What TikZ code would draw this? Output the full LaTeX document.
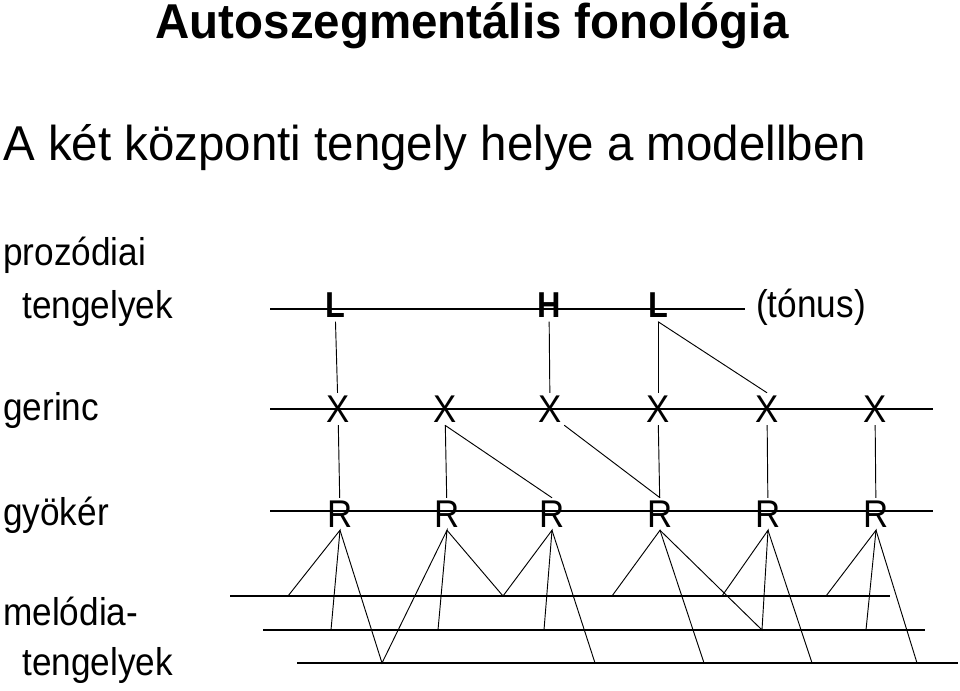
\documentclass[tikz,border=0pt]{standalone}
\usepackage{fontspec}
\setmainfont{Liberation Sans}
\usetikzlibrary{positioning}
\tikzset{
  seg/.style={inner sep=2pt, xscale=0.9, font=\fontsize{29}{29}\selectfont},
  tone/.style={inner sep=3pt, xscale=0.9, font=\bfseries\fontsize{27}{27}\selectfont},
  lbl/.style={anchor=base west, inner sep=0pt, xscale=0.91, font=\fontsize{29}{29}\selectfont},
  tier/.style={line width=1.6pt},
  assoc/.style={line width=0.7pt},
}
\begin{document}
\begin{tikzpicture}[x=0.75pt, y=-0.75pt]
            \useasboundingbox (0,0) rectangle (960,690);
            \node [anchor=base, inner sep=0pt, xscale=0.97, font=\bfseries\fontsize{36.7}{36.7}\selectfont] (title) at (472,38) {Autoszegmentális fonológia};
            \node [anchor=base west, inner sep=0pt, xscale=0.97, font=\fontsize{36.7}{36.7}\selectfont] (sub) at (3,160) {A két központi tengely helye a modellben};
            \node [lbl] (prozod) at (3,265) {prozódiai};
            \node [lbl] (tengA) at (22,318) {tengelyek};
            \node [lbl] (gerinc) at (3,420) {gerinc};
            \node [lbl] (gyoker) at (3,525) {gyökér};
            \node [lbl] (melod) at (3,625) {melódia-};
            \node [lbl] (tengB) at (22,675) {tengelyek};
            \coordinate (toneA) at (270,309);
            \coordinate (toneB) at (745,309);
            \coordinate (gerA) at (270,409);
            \coordinate (gerB) at (933,409);
            \coordinate (gyA) at (270,511);
            \coordinate (gyB) at (933,511);
            \coordinate (mA1) at (230,596);
            \coordinate (mB1) at (890,596);
            \coordinate (mA2) at (263,630);
            \coordinate (mB2) at (925,630);
            \coordinate (mA3) at (297,663);
            \coordinate (mB3) at (958,663);
            \draw[tier] (toneA) -- (toneB);
            \draw[tier] (gerA) -- (gerB);
            \draw[tier] (gyA) -- (gyB);
            \draw[tier] (mA1) -- (mB1);
            \draw[tier] (mA2) -- (mB2);
            \draw[tier] (mA3) -- (mB3);
            \node [tone] (L1) at (335,305) {L};
            \node [tone] (H1) at (549,305) {H};
            \node [tone] (L2) at (658,305) {L};
            \node [lbl] (tonus) at (756,317) {(tónus)};
            \foreach \x [count=\i] in {338,445,550,658,767,875}
                \node [seg] (X\i) at (\x,409) {X};
            \foreach \x [count=\i] in {340,447,552,660,768,876}
                \node [seg] (R\i) at (\x,514) {R};
            \draw[assoc] (L1) -- (X1);
            \draw[assoc] (H1) -- (X3);
            \draw[assoc] (L2) -- (X4);
            \draw[assoc] (L2.south) -- (X5.north);
            \draw[assoc] (X1) -- (R1);
            \draw[assoc] (X2) -- (R2);
            \draw[assoc] (X2.south) -- (R3.north);
            \draw[assoc] (X3.south east) -- (R4.north);
            \draw[assoc] (X4) -- (R4);
            \draw[assoc] (X5) -- (R5);
            \draw[assoc] (X6) -- (R6);
            \coordinate (a1) at (288,596);
            \coordinate (b1) at (331,630);
            \coordinate (c1) at (382,663);
            \coordinate (b2) at (438,630);
            \coordinate (a2) at (503,596);
            \coordinate (b3) at (544,630);
            \coordinate (c3) at (595,663);
            \coordinate (a4) at (612,596);
            \coordinate (c4) at (704,663);
            \coordinate (b4) at (762,630);
            \coordinate (a5) at (722,596);
            \coordinate (c5) at (812,663);
            \coordinate (a6) at (826,596);
            \coordinate (b6) at (866,630);
            \coordinate (c6) at (917,663);
            \draw[assoc] (a1) -- (R1.south) -- (b1);
            \draw[assoc] (R1.south) -- (c1) -- (R2.south) -- (b2);
            \draw[assoc] (R2.south) -- (a2) -- (R3.south) -- (b3);
            \draw[assoc] (R3.south) -- (c3);
            \draw[assoc] (a4) -- (R4.south) -- (c4);
            \draw[assoc] (R4.south) -- (b4) -- (R5.south) -- (a5);
            \draw[assoc] (R5.south) -- (c5);
            \draw[assoc] (a6) -- (R6.south) -- (b6);
            \draw[assoc] (R6.south) -- (c6);
\end{tikzpicture}
\end{document}
